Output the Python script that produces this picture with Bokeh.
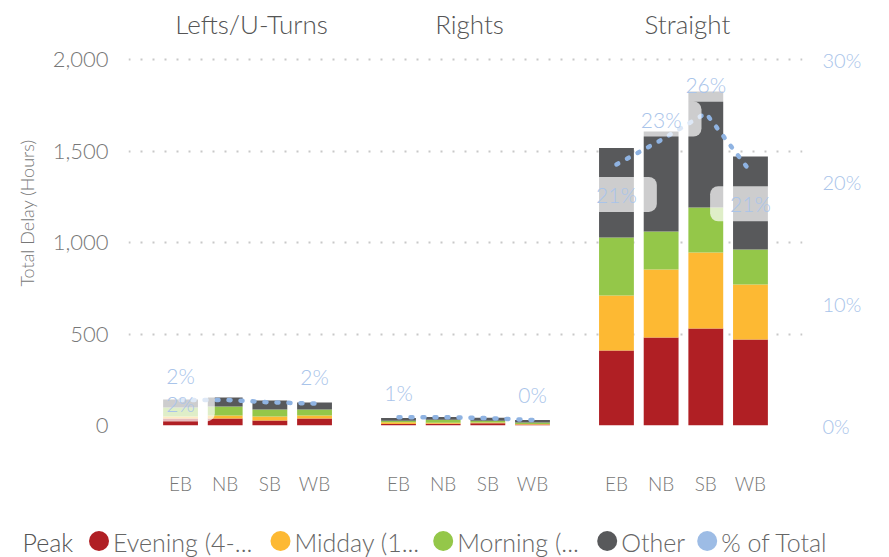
from bokeh.plotting import figure
from bokeh.models import (FactorRange, Range1d, LinearAxis, FixedTicker,
                          NumeralTickFormatter, ColumnDataSource)
from bokeh.core.properties import value
from bokeh.embed import file_html
from bokeh.resources import INLINE

# ---------------- data ----------------
facets = ["Lefts/U-Turns", "Rights", "Straight"]
directions = ["EB", "NB", "SB", "WB"]
peaks = ["Evening", "Midday", "Morning", "Other"]
legend_title = "Peak"
legend_labels = ["Evening (4-...", "Midday (1...", "Morning (...", "Other", "% of Total"]

# order: Lefts EB..WB, Rights EB..WB, Straight EB..WB
evening = [38, 38, 27, 38, 8, 10, 12, 5, 410, 481, 530, 470]
midday = [11, 17, 22, 17, 10, 5, 4, 3, 300, 371, 415, 300]
morning = [49, 49, 38, 32, 8, 16, 10, 8, 317, 208, 246, 192]
other = [44, 49, 50, 39, 15, 16, 16, 14, 490, 547, 634, 508]
pct_total = [0.021, 0.021, 0.019, 0.018,
             0.0068, 0.0068, 0.006, 0.0045,
             0.214, 0.234, 0.256, 0.208]

left_ticks = [0, 500, 1000, 1500, 2000]
right_ticks = [0.0, 0.1, 0.2, 0.3]

# which % points carry a visible data label
label_facet = ["Lefts/U-Turns", "Lefts/U-Turns", "Lefts/U-Turns", "Rights", "Rights",
               "Straight", "Straight", "Straight", "Straight"]
label_dir = ["EB", "EB", "WB", "EB", "WB", "EB", "NB", "SB", "WB"]

# ---------------- style / layout ----------------
colors = ["#B01F24", "#FDB933", "#94C749", "#58595B"]
pct_color = "#8FB3E2"
pct_text = "#A9C4EA"
leg_pct_color = "#9DBCE5"
axis_text = "#777777"
FONT = "Lato Light, Lato, sans-serif"
label_dy = [-24, 4, -27, -25, -26, 30, -21, -29, 32]

W = 889
H_MAIN = 515
H_LEG = 42
FRAME_L, FRAME_R, FRAME_H = 128, 802, 425
Y_END = 2000 * FRAME_H / 366.0
PCT_END = 0.3 * FRAME_H / 366.0

# legend strip layout (pixel units of the strip, y measured from its bottom)
leg_title_x = 22
leg_dot_x = [98.5, 280, 442.7, 606.7, 706.7]
leg_text_gap = 14
leg_text_y = 15.5
leg_dot_y = 16.5

x = [(f, d) for f in facets for d in directions]

x_range = FactorRange(*x, factor_padding=0.0, group_padding=0.88,
                      range_padding=0.665, range_padding_units="absolute")

p = figure(width=W, height=H_MAIN, x_range=x_range, y_range=Range1d(0, Y_END),
           output_backend="svg", toolbar_location=None,
           min_border_left=FRAME_L, min_border_right=W - FRAME_R, min_border_top=0,
           min_border_bottom=H_MAIN - FRAME_H)
p.outline_line_color = None
p.background_fill_color = "white"
p.border_fill_color = "white"
p.extra_y_ranges = {"pct": Range1d(0, PCT_END)}

src = ColumnDataSource(dict(x=x, Evening=evening, Midday=midday,
                            Morning=morning, Other=other))
p.vbar_stack(peaks, x="x", width=0.78, source=src,
             fill_color=colors, line_color=None)

# % of total lines, one per facet
for i, f in enumerate(facets):
    xs = [(f, d) for d in directions]
    ys = pct_total[i * 4:(i + 1) * 4]
    p.line(xs, ys, y_range_name="pct", line_color=pct_color, line_width=4.5,
           line_dash="2 10", line_cap="round")

# data labels
lab_x, lab_y, lab_t = [], [], []
for f, d in zip(label_facet, label_dir):
    idx = facets.index(f) * 4 + directions.index(d)
    lab_x.append((f, d))
    lab_y.append(pct_total[idx])
    lab_t.append(f"{round(pct_total[idx] * 100)}%")
lsrc = ColumnDataSource(dict(x=lab_x, y=lab_y, t=lab_t, dy=label_dy))
p.text(x="x", y="y", text="t", source=lsrc, y_range_name="pct", y_offset="dy",
       text_align="center", text_baseline="middle", text_color=pct_text,
       text_font=value(FONT), text_font_size="21px",
       background_fill_color="white", background_fill_alpha=0.7,
       border_radius=8, padding=dict(left=20, right=20, top=5, bottom=5))

# facet titles
tsrc = ColumnDataSource(dict(x=facets, y=[Y_END * (FRAME_H - 23) / FRAME_H] * 3, t=facets))
p.text(x="x", y="y", text="t", source=tsrc, text_align="center",
       text_baseline="middle", text_color="#555555", text_font=value(FONT),
       text_font_size="26px", x_offset=4)

# axes
p.xgrid.grid_line_color = None
p.ygrid.ticker = FixedTicker(ticks=left_ticks)
p.ygrid.grid_line_color = "#C8C8C8"
p.ygrid.grid_line_width = 2
p.ygrid.grid_line_dash = "2 10"

xa = p.xaxis[0]
xa.axis_line_color = None
xa.major_tick_line_color = None
xa.major_tick_out = 0
xa.major_label_standoff = 46
xa.major_label_text_font_size = "19px"
xa.major_label_text_color = axis_text
xa.major_label_text_font = FONT
xa.group_text_color = None
xa.group_text_font_size = "1px"
xa.separator_line_color = None

ya = p.yaxis[0]
ya.ticker = FixedTicker(ticks=left_ticks)
ya.formatter = NumeralTickFormatter(format="0,0")
ya.axis_line_color = None
ya.major_tick_line_color = None
ya.minor_tick_line_color = None
ya.major_tick_out = 0
ya.major_label_standoff = 20
ya.major_label_text_font_size = "22px"
ya.major_label_text_color = axis_text
ya.major_label_text_font = FONT
ya.axis_label = "Total Delay (Hours)"
ya.axis_label_text_font_style = "normal"
ya.axis_label_text_font_size = "18px"
ya.axis_label_text_color = axis_text
ya.axis_label_text_font = FONT
ya.axis_label_standoff = 12

ra = LinearAxis(y_range_name="pct", ticker=FixedTicker(ticks=right_ticks),
                formatter=NumeralTickFormatter(format="0%"))
ra.axis_line_color = None
ra.major_tick_line_color = None
ra.minor_tick_line_color = None
ra.major_tick_out = 0
ra.major_label_standoff = 20
ra.major_label_text_font_size = "20px"
ra.major_label_text_color = pct_text
ra.major_label_text_font = FONT
p.add_layout(ra, "right")

# legend strip: a separate root below the chart
lf = figure(width=W, height=H_LEG, x_range=Range1d(0, W), y_range=Range1d(0, H_LEG),
            output_backend="svg", toolbar_location=None,
            x_axis_location=None, y_axis_location=None,
            min_border_left=0, min_border_right=0, min_border_top=0, min_border_bottom=0)
lf.outline_line_color = None
lf.xgrid.visible = False
lf.ygrid.visible = False

leg_colors = colors + [leg_pct_color]
lf.scatter(x=leg_dot_x, y=[leg_dot_y] * len(leg_dot_x), marker="circle", size=20,
           fill_color=leg_colors, line_color=None)
lf.text(x=[v + leg_text_gap for v in leg_dot_x], y=[leg_text_y] * len(leg_dot_x),
        text=legend_labels, text_align="left", text_baseline="middle",
        text_color="#666666", text_font=value(FONT), text_font_size="25px")
lf.text(x=[leg_title_x], y=[leg_text_y], text=[legend_title], text_align="left",
        text_baseline="middle", text_color="#555555", text_font=value(FONT),
        text_font_size="25px")

open("out.html", "w").write(file_html([p, lf], INLINE))
